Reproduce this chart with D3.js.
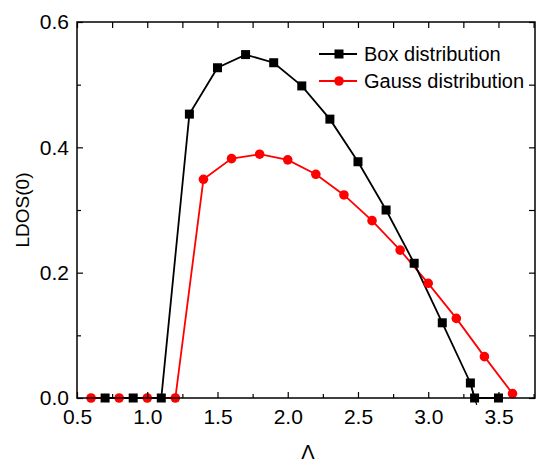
<!DOCTYPE html>
<html>
<head>
<meta charset="utf-8">
<script src="https://cdn.jsdelivr.net/npm/d3@7"></script>
<style>
  body { margin: 0; background: #fff; }
  text { font-family: "Liberation Sans", Arial, sans-serif; }
</style>
</head>
<body>
<svg id="chart"></svg>
<script>
// values
const boxLambda = [0.7, 0.9, 1.1, 1.3, 1.5, 1.7, 1.9, 2.1, 2.3, 2.5, 2.7, 2.9, 3.1, 3.3, 3.33, 3.5];
const boxLdos = [0, 0, 0, 0.453, 0.527, 0.548, 0.535, 0.498, 0.445, 0.377, 0.300, 0.215, 0.120, 0.024, 0, 0];

const gaussLambda = [0.6, 0.8, 1.0, 1.2, 1.4, 1.6, 1.8, 2.0, 2.2, 2.4, 2.6, 2.8, 3.0, 3.2, 3.4, 3.6];
const gaussLdos = [0, 0, 0, 0, 0.349, 0.382, 0.389, 0.380, 0.357, 0.324, 0.283, 0.236, 0.183, 0.127, 0.066, 0.007];

const xTicks = [0.5, 1.0, 1.5, 2.0, 2.5, 3.0, 3.5];
const xMinor = [0.75, 1.25, 1.75, 2.25, 2.75, 3.25, 3.75];
const yTicks = [0.0, 0.2, 0.4, 0.6];
const yMinor = [0.1, 0.3, 0.5];

const seriesNames = ['Box distribution', 'Gauss distribution'];

function makeChart() {
  let w = 539;
  let h = 464;
  let left = 77, right = 535, top = 22, bottom = 398;

  let svg = d3.select('#chart')
    .attr('width', w)
    .attr('height', h);

  let xScale = d3.scaleLinear()
    .domain([0.5, 3.76])
    .range([left, right]);

  let yScale = d3.scaleLinear()
    .domain([0, 0.6])
    .range([bottom, top]);

  let box = boxLambda.map((x, i) => ({ x: x, y: boxLdos[i] }));
  let gauss = gaussLambda.map((x, i) => ({ x: x, y: gaussLdos[i] }));

  let line = d3.line()
    .x((d) => xScale(d.x))
    .y((d) => yScale(d.y));

  // series lines
  svg.append('path')
    .datum(gauss)
    .attr('d', line)
    .attr('fill', 'none')
    .attr('stroke', '#ff0000')
    .attr('stroke-width', 1.8);

  svg.append('path')
    .datum(box)
    .attr('d', line)
    .attr('fill', 'none')
    .attr('stroke', '#000')
    .attr('stroke-width', 1.8);

  // small tail of the box line below zero
  svg.append('line')
    .attr('x1', xScale(3.3)).attr('y1', yScale(0.024))
    .attr('x2', xScale(3.345)).attr('y2', yScale(-0.011))
    .attr('stroke', '#000')
    .attr('stroke-width', 1.2);

  svg.selectAll('circle.gauss')
    .data(gauss)
    .enter()
    .append('circle')
    .attr('class', 'gauss')
    .attr('cx', (d) => xScale(d.x))
    .attr('cy', (d) => yScale(d.y))
    .attr('r', 4.8)
    .attr('fill', '#ff0000');

  svg.selectAll('rect.box')
    .data(box)
    .enter()
    .append('rect')
    .attr('class', 'box')
    .attr('x', (d) => xScale(d.x) - 4.5)
    .attr('y', (d) => yScale(d.y) - 4.5)
    .attr('width', 9)
    .attr('height', 9)
    .attr('fill', '#000');

  // AXES - ticks point inward on all four sides
  let axisFont = (g) => g.selectAll('text')
    .style('font-size', '21px')
    .style('font-family', '"Liberation Sans", Arial, sans-serif')
    .attr('fill', '#000');

  let clean = (g) => {
    g.select('.domain').remove();
    g.selectAll('line').attr('stroke', '#000').attr('stroke-width', 1.2);
  };

  // bottom
  svg.append('g')
    .attr('transform', `translate(0, ${bottom})`)
    .call(d3.axisTop(xScale).tickValues(xTicks).tickSize(6).tickFormat(''))
    .call(clean);
  svg.append('g')
    .attr('transform', `translate(0, ${bottom})`)
    .call(d3.axisTop(xScale).tickValues(xMinor).tickSize(4).tickFormat(''))
    .call(clean);
  svg.append('g')
    .attr('transform', `translate(0, ${bottom})`)
    .call(d3.axisBottom(xScale).tickValues(xTicks).tickSize(0).tickPadding(11).tickFormat(d3.format('.1f')))
    .call((g) => g.select('.domain').remove())
    .call(axisFont);

  // top
  svg.append('g')
    .attr('transform', `translate(0, ${top})`)
    .call(d3.axisBottom(xScale).tickValues(xTicks.concat(xMinor)).tickSize(6).tickFormat(''))
    .call(clean);

  // left
  svg.append('g')
    .attr('transform', `translate(${left}, 0)`)
    .call(d3.axisRight(yScale).tickValues(yTicks).tickSize(6).tickFormat(''))
    .call(clean);
  svg.append('g')
    .attr('transform', `translate(${left}, 0)`)
    .call(d3.axisRight(yScale).tickValues(yMinor).tickSize(4).tickFormat(''))
    .call(clean);
  svg.append('g')
    .attr('transform', `translate(${left}, 0)`)
    .call(d3.axisLeft(yScale).tickValues(yTicks).tickSize(0).tickPadding(8).tickFormat(d3.format('.1f')))
    .call((g) => g.select('.domain').remove())
    .call(axisFont);

  // right
  svg.append('g')
    .attr('transform', `translate(${right}, 0)`)
    .call(d3.axisLeft(yScale).tickValues(yTicks.concat(yMinor)).tickSize(6).tickFormat(''))
    .call(clean);

  // frame
  svg.append('rect')
    .attr('x', left)
    .attr('y', top)
    .attr('width', right - left)
    .attr('height', bottom - top)
    .attr('fill', 'none')
    .attr('stroke', '#000')
    .attr('stroke-width', 1.5);

  // axis titles
  svg.append('text')
    .attr('transform', `translate(29, ${(top + bottom) / 2}) rotate(-90)`)
    .attr('text-anchor', 'middle')
    .style('font-size', '19px')
    .text('LDOS(0)');

  svg.append('text')
    .attr('x', 308)
    .attr('y', 459)
    .attr('text-anchor', 'middle')
    .style('font-size', '20px')
    .text('Λ');

  // legend
  let legend = svg.append('g');
  let rows = [
    { name: seriesNames[0], color: '#000', shape: 'square', y: 54 },
    { name: seriesNames[1], color: '#ff0000', shape: 'circle', y: 81 }
  ];
  rows.forEach((r) => {
    legend.append('line')
      .attr('x1', 319).attr('x2', 357)
      .attr('y1', r.y).attr('y2', r.y)
      .attr('stroke', r.color)
      .attr('stroke-width', 1.8);
    if (r.shape === 'square') {
      legend.append('rect')
        .attr('x', 334.5).attr('y', r.y - 4.5)
        .attr('width', 9).attr('height', 9)
        .attr('fill', r.color);
    } else {
      legend.append('circle')
        .attr('cx', 339).attr('cy', r.y)
        .attr('r', 4.8)
        .attr('fill', r.color);
    }
    legend.append('text')
      .attr('x', 364)
      .attr('y', r.y + 7)
      .style('font-size', '20px')
      .text(r.name);
  });
}

makeChart();
</script>
</body>
</html>
